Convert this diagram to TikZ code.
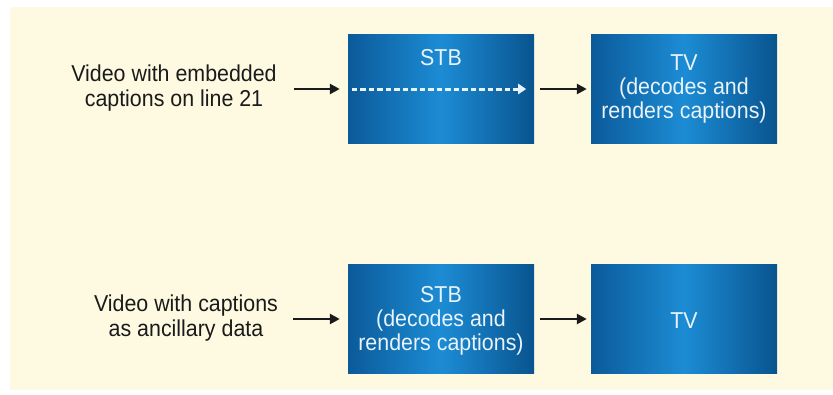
\documentclass[tikz,border=0pt]{standalone}
\usepackage{fontspec}
\setmainfont{Liberation Sans}[FakeStretch=0.93]
\usetikzlibrary{arrows.meta}
\definecolor{panel}{HTML}{FEFAE2}
\definecolor{boxdark}{HTML}{0B5A9A}
\definecolor{boxdarkr}{HTML}{09548F}
\definecolor{boxlight}{HTML}{1C8CD4}
\definecolor{boxtext}{HTML}{E8F3FB}
\definecolor{ink}{HTML}{1A1A1A}
\tikzset{
  txt/.style={font=\fontsize{23}{24.5}\selectfont, align=center, inner sep=0pt, text=ink},
  unit/.style={minimum width=186pt, minimum height=109pt, inner sep=0pt,
    left color=boxdark, right color=boxdarkr, middle color=boxlight, draw=none},
  unittxt/.style={font=\fontsize{23}{24}\selectfont, align=center, inner sep=0pt, text=boxtext},
  arr/.style={draw=ink, line width=2.6pt, -{Triangle[length=10pt,width=10pt]}},
  passarr/.style={draw=boxtext, line width=3pt, dash pattern=on 5.5pt off 3pt,
    -{Triangle[length=8pt,width=10pt]}}
}
\begin{document}
\begin{tikzpicture}[x=1pt, y=-1pt]
  \useasboundingbox (0,0) rectangle (833,394);
  \fill[white] (0,0) rectangle (833,394);
  \fill[panel] (10,7) rectangle (833,390);

  % upper path: captions carried on line 21
  \node[txt] (src1) at (174,88) {Video with embedded\\captions on line 21};
  \node[unit] (stb1) at (441,89) {};
  \node[unit] (tv1) at (684,89) {};
  \node[unittxt] (stb1t) at (441,58) {STB};
  \node[unittxt] (tv1t) at (684,89) {TV\\(decodes and\\renders captions)};

  % lower path: captions as ancillary data
  \node[txt] (src2) at (186,318) {Video with captions\\as ancillary data};
  \node[unit] (stb2) at (441,319) {};
  \node[unit] (tv2) at (684,319) {};
  \node[unittxt] (stb2t) at (441,321) {STB\\(decodes and\\renders captions)};
  \node[unittxt] (tv2t) at (684,321) {TV};

  % connectors
  \draw[arr, shorten <=17pt, shorten >=8pt] (src1.east |- stb1.west) -- (stb1.west);
  \draw[passarr, shorten <=4pt, shorten >=8pt] (stb1.west) -- (stb1.east);
  \draw[arr, shorten <=6pt, shorten >=4pt] (stb1.east) -- (tv1.west);
  \draw[arr, shorten <=15pt, shorten >=8pt] (src2.east |- stb2.west) -- (stb2.west);
  \draw[arr, shorten <=6pt, shorten >=4pt] (stb2.east) -- (tv2.west);
\end{tikzpicture}
\end{document}
